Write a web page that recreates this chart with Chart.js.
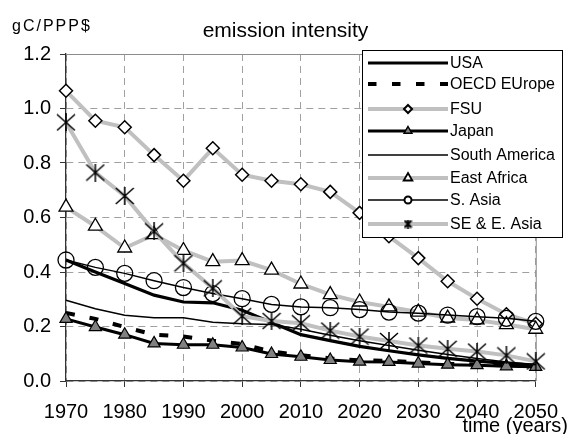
<!DOCTYPE html>
<html>
<head>
<meta charset="utf-8">
<script src="https://cdn.jsdelivr.net/npm/chart.js@4/dist/chart.umd.min.js"></script>
<style>
  html, body { margin: 0; padding: 0; background: #ffffff; }
  #wrap { width: 571px; height: 434px; position: relative; }
</style>
</head>
<body>
<div id="wrap"><canvas id="c" width="571" height="434"></canvas></div>
<script>
// ---- data ----
const years = [1970,1975,1980,1985,1990,1995,2000,2005,2010,2015,2020,2025,2030,2035,2040,2045,2050];
const xTicks = [1970,1980,1990,2000,2010,2020,2030,2040,2050];
const yTicks = [0.0,0.2,0.4,0.6,0.8,1.0,1.2];
const seriesNames = ["USA","OECD EUrope","FSU","Japan","South America","East Africa","S. Asia","SE & E. Asia"];
const usa          = [0.444,0.400,0.358,0.315,0.290,0.287,0.260,0.215,0.170,0.148,0.127,0.111,0.096,0.083,0.073,0.065,0.058];
const oecdEurope   = [0.250,0.228,0.198,0.170,0.163,0.148,0.136,0.108,0.095,0.083,0.076,0.074,0.068,0.063,0.061,0.057,0.054];
const fsu          = [1.065,0.955,0.931,0.829,0.735,0.854,0.757,0.735,0.722,0.694,0.617,0.531,0.451,0.366,0.302,0.245,0.210];
const japan        = [0.228,0.198,0.170,0.138,0.133,0.133,0.123,0.099,0.089,0.077,0.071,0.070,0.064,0.060,0.058,0.054,0.052];
const southAmerica = [0.296,0.265,0.241,0.232,0.232,0.216,0.210,0.207,0.190,0.168,0.148,0.130,0.113,0.097,0.083,0.070,0.060];
const eastAfrica   = [0.638,0.568,0.488,0.537,0.479,0.438,0.442,0.407,0.356,0.317,0.290,0.272,0.253,0.231,0.224,0.207,0.190];
const sAsia        = [0.444,0.417,0.395,0.368,0.343,0.321,0.302,0.281,0.272,0.269,0.262,0.253,0.249,0.242,0.236,0.230,0.219];
const seAsia       = [0.949,0.765,0.679,0.549,0.432,0.340,0.238,0.220,0.212,0.185,0.163,0.147,0.130,0.118,0.108,0.094,0.072];
const titleText = "emission intensity";
const yUnitText = "gC/PPP$";
const xTitleText = "time (years)";

// ---- styles ----
const FONT = "'Liberation Sans', Arial, sans-serif";
const GRAY = "#c0c0c0";
Chart.defaults.font.family = FONT;
Chart.defaults.color = "#000";

function makeStar(w, h, lw) {
  const c = document.createElement('canvas');
  c.width = w; c.height = h;
  const g = c.getContext('2d');
  g.strokeStyle = '#000'; g.lineWidth = lw;
  g.beginPath();
  g.moveTo(1, 1); g.lineTo(w - 1, h - 1);
  g.moveTo(w - 1, 1); g.lineTo(1, h - 1);
  g.moveTo(w / 2, 0); g.lineTo(w / 2, h);
  g.stroke();
  return c;
}
const starBig = makeStar(20, 18, 1.5);
const starSmall = makeStar(9, 9, 2);

const pts = arr => arr.map((v, i) => ({ x: years[i], y: v }));

const styles = [
  { borderColor: '#000', borderWidth: 3.2, pointRadius: 0 },
  { borderColor: '#000', borderWidth: 4, borderDash: [9, 15], pointRadius: 0 },
  { borderColor: GRAY, borderWidth: 4, pointStyle: 'rectRot', pointRadius: 6.5, pointBackgroundColor: '#fff', pointBorderColor: '#000', pointBorderWidth: 1.5 },
  { borderColor: '#000', borderWidth: 3, pointStyle: 'triangle', pointRadius: 7, pointBackgroundColor: '#808080', pointBorderColor: '#000', pointBorderWidth: 1.2 },
  { borderColor: '#000', borderWidth: 1.5, pointRadius: 0 },
  { borderColor: GRAY, borderWidth: 4, pointStyle: 'triangle', pointRadius: 8, pointBackgroundColor: '#fff', pointBorderColor: '#000', pointBorderWidth: 1.3 },
  { borderColor: '#000', borderWidth: 1.5, pointStyle: 'circle', pointRadius: 8, pointBackgroundColor: 'rgba(0,0,0,0)', pointBorderColor: '#000', pointBorderWidth: 1.3 },
  { borderColor: GRAY, borderWidth: 4, pointStyle: starBig, pointRadius: 9, pointBackgroundColor: '#000', pointBorderColor: '#000' }
];
const seriesValues = [usa, oecdEurope, fsu, japan, southAmerica, eastAfrica, sAsia, seAsia];

const datasets = seriesValues.map((vals, i) => Object.assign({
  label: seriesNames[i],
  data: pts(vals),
  tension: 0,
  fill: false,
  clip: false,
  order: 10 - i,
  pointHoverRadius: 0
}, styles[i]));

// legend row geometry
const LEG = { left: 362, top: 50, right: 562, bottom: 237, x1: 368, x2: 448, tx: 450, rows: [63, 84, 109, 131, 155, 178, 200, 224] };
const legendMarkers = [
  null, null,
  { type: 'diamond', r: 4, fill: '#fff', lw: 2 },
  { type: 'tri', r: 4.5, fill: '#808080', lw: 1.5 },
  null,
  { type: 'tri', r: 5, fill: '#fff', lw: 1.8 },
  { type: 'circle', r: 3.5, fill: '#fff', lw: 2 },
  { type: 'star' }
];

const decor = {
  id: 'decor',
  beforeDatasetsDraw(chart) {
    const { ctx, chartArea: a } = chart;
    ctx.save();
    ctx.strokeStyle = '#8c8c8c';
    ctx.lineWidth = 1;
    ctx.beginPath();
    ctx.moveTo(a.left, a.top + 0.5); ctx.lineTo(a.right + 0.5, a.top + 0.5);
    ctx.lineTo(a.right + 0.5, a.bottom);
    ctx.stroke();
    ctx.restore();
  },
  afterDraw(chart) {
    const ctx = chart.ctx;
    ctx.save();
    ctx.fillStyle = '#000';
    // title
    ctx.font = `21px ${FONT}`;
    ctx.textAlign = 'center'; ctx.textBaseline = 'alphabetic';
    ctx.fillText(titleText, 285.5, 37);
    // y unit
    ctx.font = `16px ${FONT}`;
    ctx.textAlign = 'left';
    if ('letterSpacing' in ctx) ctx.letterSpacing = '2px';
    ctx.fillText(yUnitText, 12, 31);
    if ('letterSpacing' in ctx) ctx.letterSpacing = '0px';
    // x title
    ctx.font = `20px ${FONT}`;
    ctx.textAlign = 'right';
    ctx.fillText(xTitleText, 568, 432);

    // legend
    ctx.fillStyle = '#fff';
    ctx.fillRect(LEG.left, LEG.top, LEG.right - LEG.left, LEG.bottom - LEG.top);
    ctx.strokeStyle = '#000'; ctx.lineWidth = 1;
    ctx.strokeRect(LEG.left + 0.5, LEG.top + 0.5, LEG.right - LEG.left, LEG.bottom - LEG.top);
    const mx = (LEG.x1 + LEG.x2) / 2 - 0;
    seriesNames.forEach((name, i) => {
      const y = LEG.rows[i];
      const st = styles[i];
      ctx.save();
      ctx.strokeStyle = st.borderColor;
      ctx.lineWidth = st.borderWidth;
      ctx.setLineDash(st.borderDash ? [8.5, 15.5] : []);
      ctx.beginPath(); ctx.moveTo(LEG.x1, y); ctx.lineTo(LEG.x2, y); ctx.stroke();
      ctx.restore();
      const m = legendMarkers[i];
      if (m) {
        ctx.save();
        ctx.strokeStyle = '#000';
        if (m.type === 'star') {
          ctx.drawImage(starSmall, mx - 4.5, y - 4.5);
        } else {
          ctx.fillStyle = m.fill; ctx.lineWidth = m.lw;
          ctx.beginPath();
          if (m.type === 'diamond') {
            ctx.moveTo(mx, y - m.r); ctx.lineTo(mx + m.r, y); ctx.lineTo(mx, y + m.r); ctx.lineTo(mx - m.r, y); ctx.closePath();
          } else if (m.type === 'tri') {
            const r = m.r;
            ctx.moveTo(mx, y - r); ctx.lineTo(mx + r * 0.866, y + r * 0.5); ctx.lineTo(mx - r * 0.866, y + r * 0.5); ctx.closePath();
          } else {
            ctx.arc(mx, y, m.r, 0, Math.PI * 2);
          }
          ctx.fill(); ctx.stroke();
        }
        ctx.restore();
      }
      ctx.fillStyle = '#000';
      ctx.font = `16px ${FONT}`;
      ctx.textAlign = 'left'; ctx.textBaseline = 'middle';
      ctx.fillText(name, LEG.tx, y + 1);
    });
    ctx.restore();
  }
};

new Chart(document.getElementById('c'), {
  type: 'line',
  data: { datasets },
  options: {
    responsive: false,
    animation: false,
    events: [],
    layout: { padding: { top: 54, right: 25, left: 0, bottom: 0 } },
    plugins: { legend: { display: false }, title: { display: false }, tooltip: { enabled: false } },
    scales: {
      x: {
        type: 'linear',
        min: 1970, max: 2050,
        afterBuildTicks: s => { s.ticks = xTicks.map(v => ({ value: v })); },
        afterFit: s => { s.height = 53; },
        ticks: { font: { size: 20 }, color: '#000', padding: 13, maxRotation: 0, autoSkip: false,
                 callback: v => String(v) },
        grid: { color: '#a0a0a0', lineWidth: 1, tickLength: 6, tickColor: '#333', tickWidth: 1 },
        border: { display: true, color: '#333', width: 1.3, dash: [7, 5] }
      },
      y: {
        type: 'linear',
        min: 0, max: 1.2,
        afterBuildTicks: s => { s.ticks = yTicks.map(v => ({ value: v })); },
        afterFit: s => { s.width = 66; },
        ticks: { font: { size: 20 }, color: '#000', padding: 9, callback: v => Number(v).toFixed(1) },
        grid: { color: '#a0a0a0', lineWidth: 1, tickLength: 6, tickColor: '#333', tickWidth: 1 },
        border: { display: true, color: '#333', width: 1.3, dash: [7, 5] }
      }
    }
  },
  plugins: [decor]
});
</script>
</body>
</html>
